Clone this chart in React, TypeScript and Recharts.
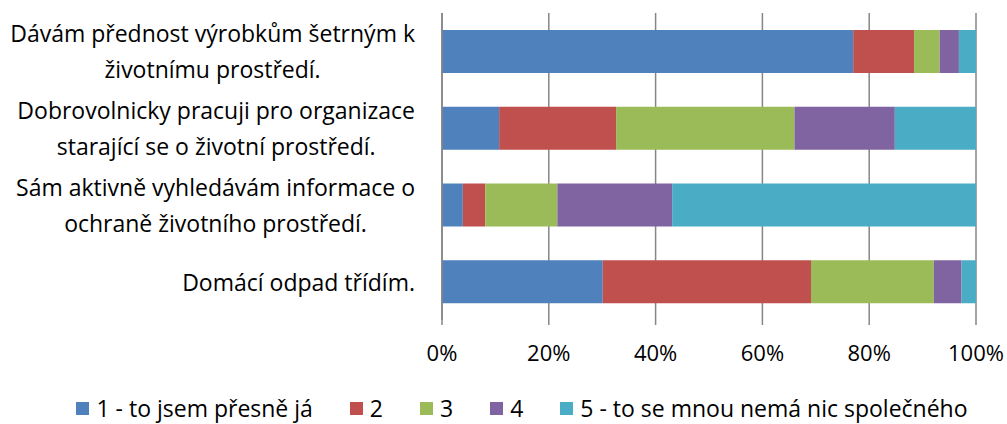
import React from "react";
import { BarChart, Bar, XAxis, YAxis, CartesianGrid, Legend } from "recharts";

const categories = [
  "Dávám přednost výrobkům šetrným k\nživotnímu prostředí.",
  "Dobrovolnicky pracuji pro organizace\nstarající se o životní prostředí.",
  "Sám aktivně vyhledávám informace o\nochraně životního prostředí.",
  "Domácí odpad třídím.",
];

const seriesNames = [
  "1 - to jsem přesně já",
  "2",
  "3",
  "4",
  "5 - to se mnou nemá nic společného",
];

const s1 = [77.0, 10.7, 3.9, 30.1];
const s2 = [11.4, 21.9, 4.2, 39.0];
const s3 = [4.8, 33.4, 13.5, 23.0];
const s4 = [3.6, 18.8, 21.5, 5.2];
const s5 = [3.2, 15.2, 56.9, 2.7];

const xTicks = [0, 20, 40, 60, 80, 100];

const colors = ["#4F81BD", "#C0504D", "#9BBB59", "#8064A2", "#4BACC6"];
const FONT = "'Open Sans', sans-serif";
const FONT_SIZE = 23;

const data = categories.map((name, i) => ({
  name,
  s1: s1[i],
  s2: s2[i],
  s3: s3[i],
  s4: s4[i],
  s5: s5[i],
}));

let ctx: CanvasRenderingContext2D | null = null;
const measure = (t: string) => {
  if (!ctx) ctx = document.createElement("canvas").getContext("2d");
  if (!ctx) return t.length * 11;
  ctx.font = `${FONT_SIZE}px 'Open Sans'`;
  return ctx.measureText(t).width;
};

const YTick = (props: any) => {
  const { x, y, payload } = props;
  const lines = String(payload.value).split("\n");
  const maxW = Math.max(...lines.map(measure));
  const cx = x - 27 - maxW / 2;
  const top = y - (lines.length - 1) * 18 + 1;
  return (
    <text textAnchor="middle" fill="#000" fontSize={FONT_SIZE} fontFamily={FONT}>
      {lines.map((l, i) => (
        <tspan key={i} x={cx} y={top + i * 36} dy="0.35em">
          {l}
        </tspan>
      ))}
    </text>
  );
};

const LegendContent = () => (
  <div
    style={{
      display: "flex",
      justifyContent: "center",
      alignItems: "center",
      height: 36,
      gap: 37,
      fontFamily: FONT,
      fontSize: FONT_SIZE,
      lineHeight: 1,
      color: "#000",
      paddingLeft: 68,
      paddingTop: 4,
      boxSizing: "border-box",
    }}
  >
    {seriesNames.map((n, i) => (
      <div key={n} style={{ display: "flex", alignItems: "center", gap: 7 }}>
        <span style={{ width: 13, height: 13, background: colors[i], display: "inline-block" }} />
        <span>{n}</span>
      </div>
    ))}
  </div>
);

const App = () => {
  return (
    <div style={{ position: "absolute", left: 0, top: 0, width: 1007, height: 424, background: "#fff" }}>
      <BarChart
        width={1007}
        height={424}
        data={data}
        layout="vertical"
        barSize={43}
        margin={{ top: 13, right: 31, left: 0, bottom: 0 }}
      >
        <CartesianGrid horizontal={false} stroke="#868686" strokeWidth={1.5} />
        <XAxis
          type="number"
          domain={[0, 100]}
          ticks={xTicks}
          tickFormatter={(v) => `${v}%`}
          axisLine={false}
          tickLine={{ stroke: "#868686", strokeWidth: 1.5 }}
          tickSize={5}
          tickMargin={20}
          height={68}
          tick={{ fill: "#000", fontSize: 22, fontFamily: FONT }}
        />
        <YAxis
          type="category"
          dataKey="name"
          width={442}
          axisLine={{ stroke: "#868686", strokeWidth: 1.5 }}
          tickLine={false}
          tickSize={0}
          tickMargin={0}
          tick={<YTick />}
          interval={0}
        />
        <Legend verticalAlign="bottom" height={36} content={<LegendContent />} />
        {["s1", "s2", "s3", "s4", "s5"].map((k, i) => (
          <Bar key={k} dataKey={k} name={seriesNames[i]} stackId="a" fill={colors[i]} isAnimationActive={false} />
        ))}
      </BarChart>
    </div>
  );
};

export default App;
